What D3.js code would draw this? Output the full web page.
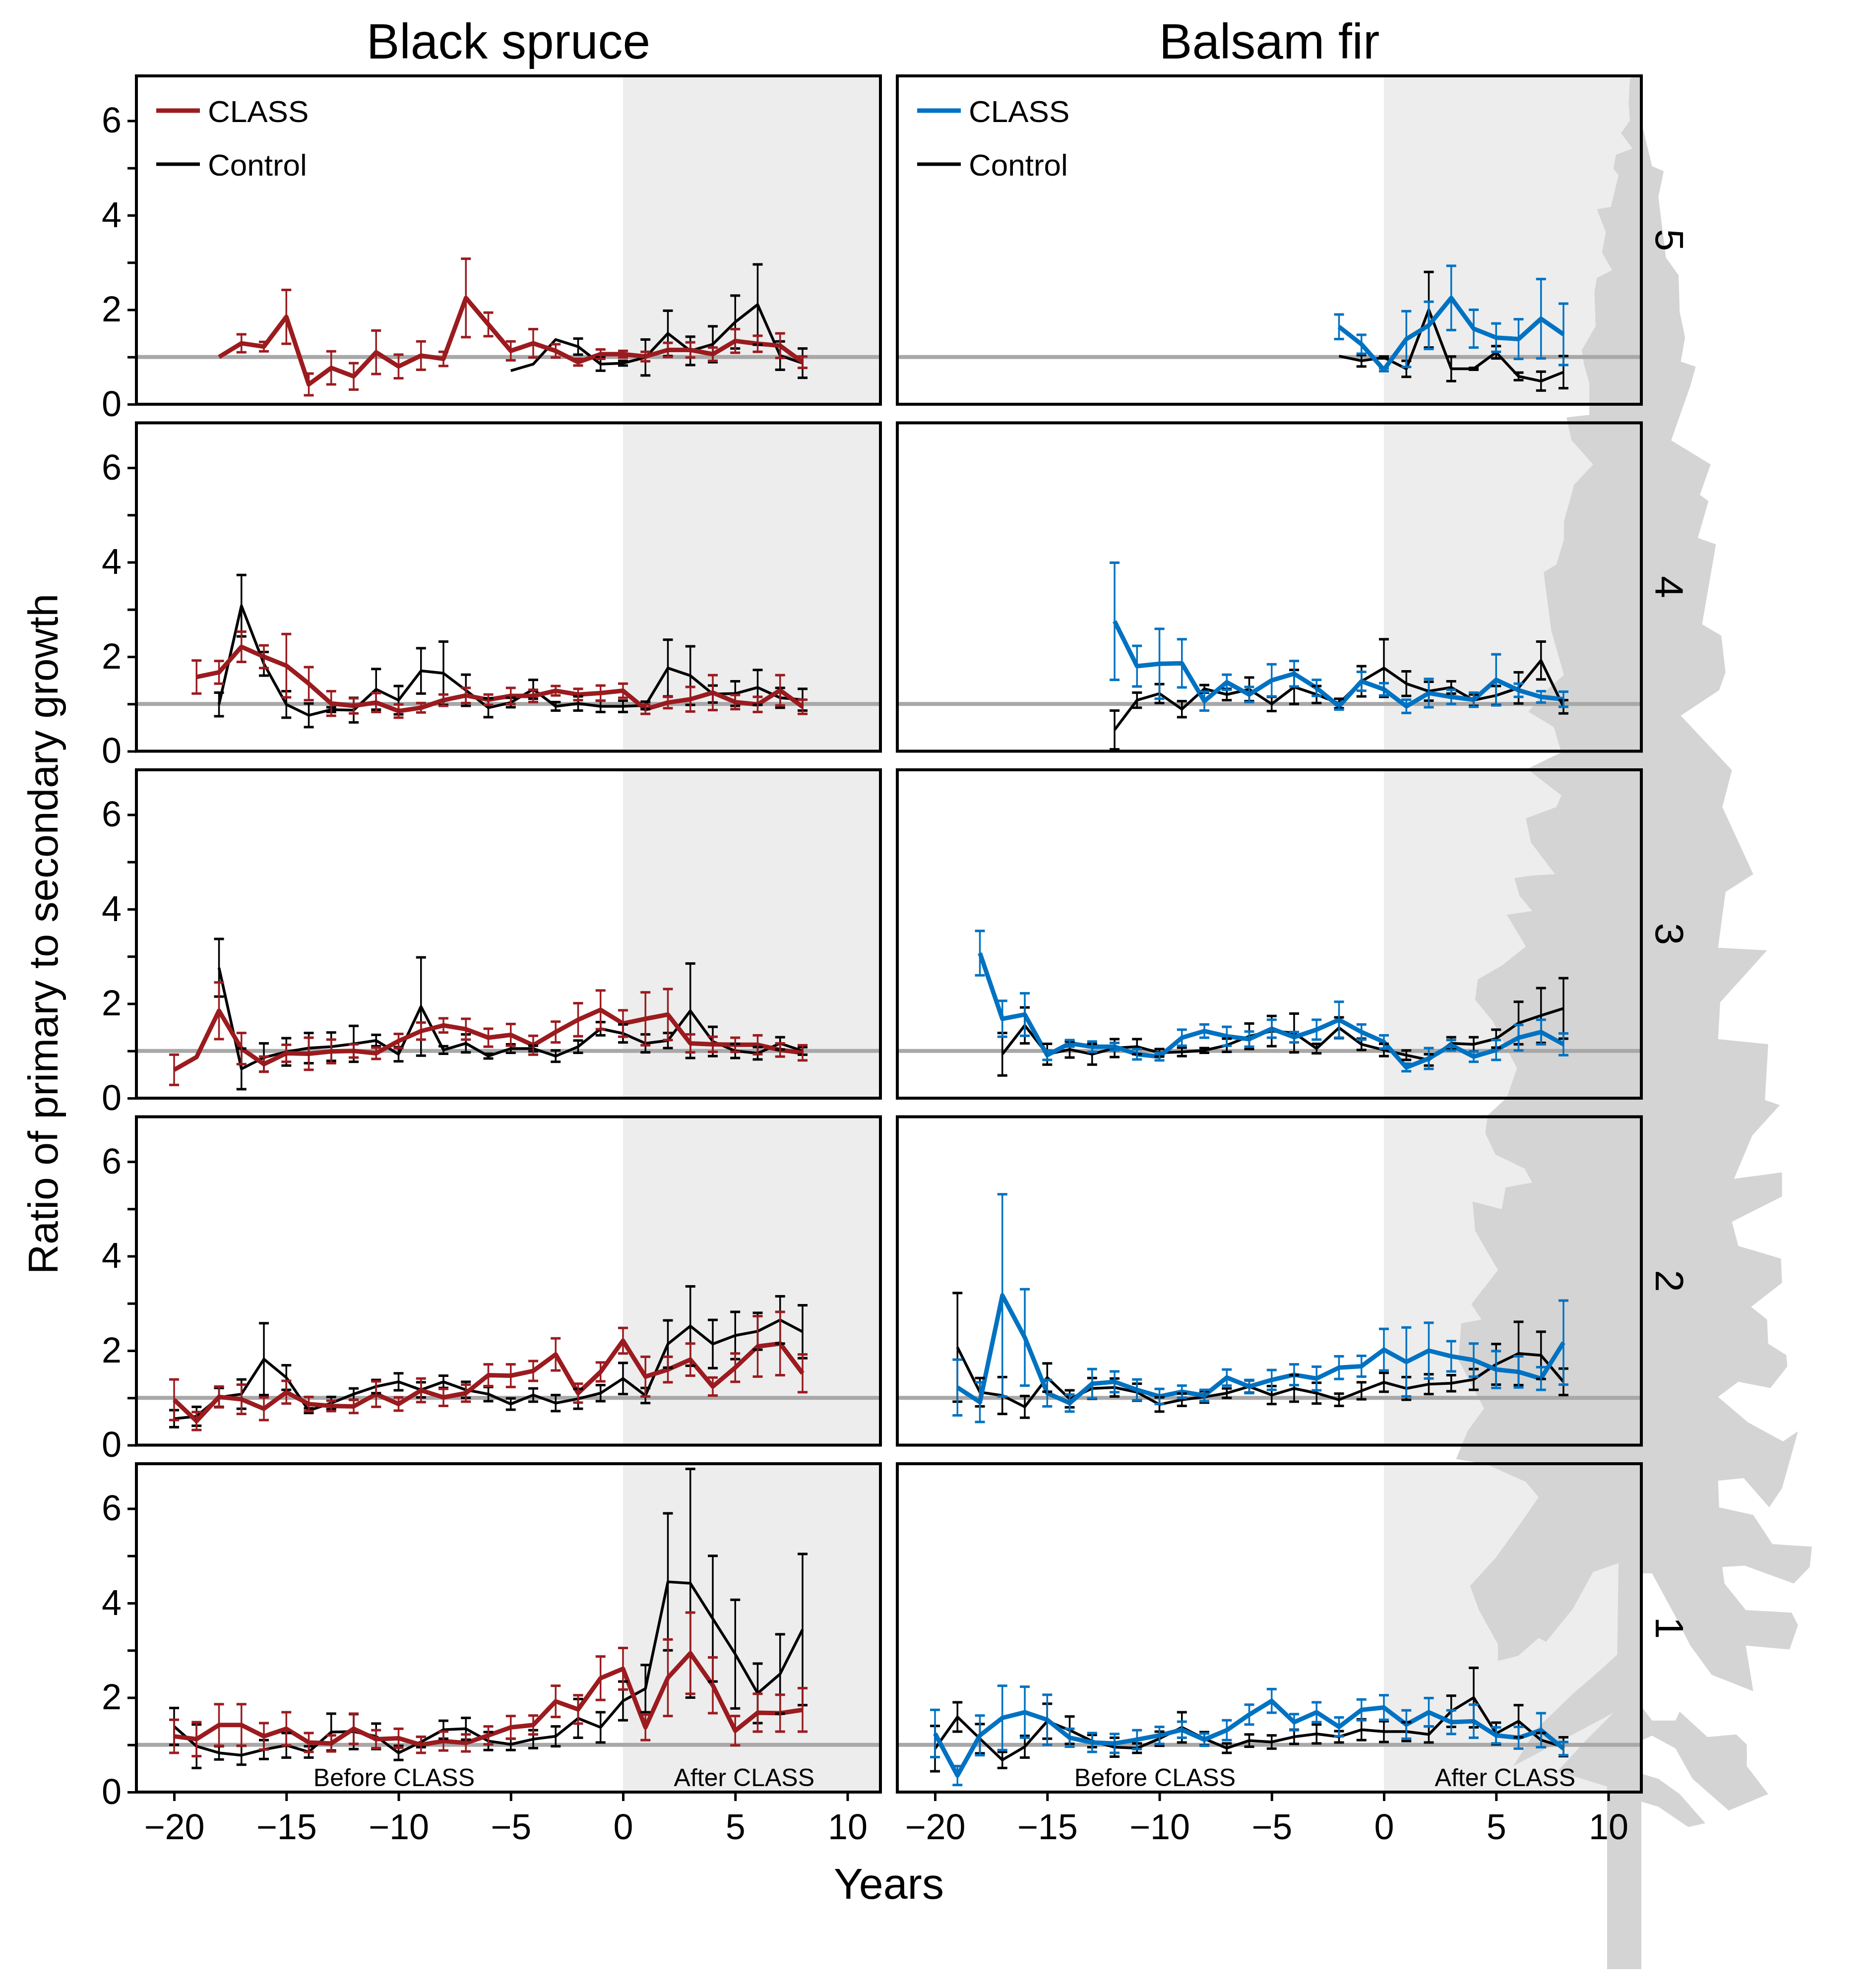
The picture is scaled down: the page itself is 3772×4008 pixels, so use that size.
<!DOCTYPE html>
<html>
<head>
<meta charset="utf-8">
<script src="https://cdn.jsdelivr.net/npm/d3@7"></script>
<style>
  body { margin: 0; background: #fff; }
  svg { display: block; }
</style>
</head>
<body>
<div id="container"><svg></svg></div>
<script>
// years relative to the CLASS treatment
let years = [-20, -19, -18, -17, -16, -15, -14, -13, -12, -11, -10, -9, -8, -7, -6, -5, -4, -3, -2, -1, 0, 1, 2, 3, 4, 5, 6, 7, 8];

// height class 5 (top row)
let spruce5_class    = [null, null, 1.00, 1.29, 1.22, 1.85, 0.42, 0.77, 0.59, 1.10, 0.80, 1.03, 0.96, 2.25, 1.69, 1.13, 1.29, 1.13, 0.89, 1.06, 1.06, 1.01, 1.15, 1.15, 1.06, 1.34, 1.28, 1.24, 0.89];
let spruce5_class_se = [null, null, 0, 0.19, 0.10, 0.57, 0.23, 0.35, 0.28, 0.46, 0.25, 0.30, 0.15, 0.83, 0.25, 0.20, 0.30, 0.14, 0.07, 0.10, 0.07, 0.10, 0.15, 0.16, 0.14, 0.25, 0.17, 0.26, 0.12];
let spruce5_ctrl     = [null, null, null, null, null, null, null, null, null, null, null, null, null, null, null, 0.71, 0.85, 1.37, 1.22, 0.85, 0.87, 0.99, 1.50, 1.13, 1.27, 1.74, 2.11, 1.03, 0.87];
let spruce5_ctrl_se  = [null, null, null, null, null, null, null, null, null, null, null, null, null, null, null, 0, 0, 0, 0.17, 0.14, 0.05, 0.38, 0.48, 0.30, 0.38, 0.56, 0.85, 0.30, 0.31];
let fir5_class       = [null, null, null, null, null, null, null, null, null, null, null, null, null, null, null, null, null, null, 1.64, 1.27, 0.73, 1.38, 1.67, 2.25, 1.60, 1.41, 1.38, 1.81, 1.48];
let fir5_class_se    = [null, null, null, null, null, null, null, null, null, null, null, null, null, null, null, null, null, null, 0.26, 0.20, 0.03, 0.59, 0.50, 0.68, 0.40, 0.30, 0.42, 0.84, 0.65];
let fir5_ctrl        = [null, null, null, null, null, null, null, null, null, null, null, null, null, null, null, null, null, null, 1.02, 0.92, 0.99, 0.75, 2.00, 0.75, 0.75, 1.10, 0.59, 0.49, 0.68];
let fir5_ctrl_se     = [null, null, null, null, null, null, null, null, null, null, null, null, null, null, null, null, null, null, 0, 0.12, 0.02, 0.17, 0.80, 0.26, 0.02, 0.13, 0.08, 0.20, 0.34];

// height class 4
let spruce4_class    = [null, 1.57, 1.67, 2.21, 2.00, 1.81, 1.43, 1.01, 0.96, 1.03, 0.85, 0.92, 1.08, 1.18, 1.09, 1.17, 1.17, 1.28, 1.20, 1.23, 1.28, 0.89, 1.03, 1.10, 1.24, 1.04, 0.99, 1.29, 0.94];
let spruce4_class_se = [null, 0.35, 0.24, 0.32, 0.24, 0.67, 0.35, 0.26, 0.16, 0.20, 0.14, 0.10, 0.12, 0.16, 0.11, 0.17, 0.13, 0.10, 0.12, 0.16, 0.15, 0.10, 0.12, 0.26, 0.37, 0.15, 0.16, 0.32, 0.15];
let spruce4_ctrl     = [null, null, 0.99, 3.08, 1.85, 0.99, 0.76, 0.88, 0.87, 1.31, 1.08, 1.70, 1.65, 1.29, 0.92, 1.03, 1.31, 0.95, 1.01, 0.95, 0.95, 0.97, 1.76, 1.60, 1.21, 1.22, 1.35, 1.13, 1.09];
let spruce4_ctrl_se  = [null, null, 0.25, 0.65, 0.25, 0.28, 0.25, 0.05, 0.26, 0.43, 0.30, 0.48, 0.67, 0.33, 0.20, 0.10, 0.20, 0.09, 0.15, 0.12, 0.12, 0.08, 0.60, 0.62, 0.18, 0.26, 0.37, 0.21, 0.23];
let fir4_class       = [null, null, null, null, null, null, null, null, 2.75, 1.80, 1.85, 1.86, 1.06, 1.46, 1.20, 1.50, 1.64, 1.34, 0.95, 1.48, 1.31, 0.95, 1.23, 1.15, 1.09, 1.51, 1.29, 1.15, 1.10];
let fir4_class_se    = [null, null, null, null, null, null, null, null, 1.24, 0.43, 0.74, 0.51, 0.20, 0.16, 0.16, 0.34, 0.27, 0.17, 0.07, 0.20, 0.13, 0.14, 0.30, 0.15, 0.15, 0.54, 0.14, 0.12, 0.16];
let fir4_ctrl        = [null, null, null, null, null, null, null, null, 0.45, 1.08, 1.22, 0.89, 1.32, 1.20, 1.31, 1.00, 1.36, 1.20, 1.01, 1.48, 1.76, 1.43, 1.27, 1.35, 1.08, 1.18, 1.34, 1.92, 0.94];
let fir4_ctrl_se     = [null, null, null, null, null, null, null, null, 0.41, 0.16, 0.20, 0.17, 0.08, 0.12, 0.25, 0.15, 0.36, 0.18, 0.10, 0.32, 0.61, 0.26, 0.20, 0.13, 0.12, 0.20, 0.33, 0.40, 0.14];

// height class 3
let spruce3_class    = [0.60, 0.87, 1.85, 1.05, 0.72, 0.95, 0.94, 0.99, 1.00, 0.95, 1.21, 1.42, 1.54, 1.46, 1.28, 1.34, 1.12, 1.40, 1.66, 1.87, 1.58, 1.68, 1.77, 1.16, 1.14, 1.13, 1.13, 1.02, 0.96];
let spruce3_class_se = [0.32, 0, 0.60, 0.33, 0.16, 0.18, 0.34, 0.25, 0.14, 0.12, 0.15, 0.18, 0.15, 0.22, 0.19, 0.23, 0.20, 0.22, 0.35, 0.41, 0.28, 0.56, 0.54, 0.19, 0.16, 0.15, 0.20, 0.14, 0.16];
let spruce3_ctrl     = [null, null, 2.76, 0.62, 0.86, 0.98, 1.06, 1.09, 1.15, 1.22, 0.93, 1.94, 1.02, 1.16, 0.89, 1.05, 1.05, 0.89, 1.09, 1.47, 1.37, 1.16, 1.22, 1.85, 1.20, 1.00, 0.95, 1.16, 1.00];
let spruce3_ctrl_se  = [null, null, 0.61, 0.43, 0.30, 0.29, 0.32, 0.30, 0.38, 0.12, 0.15, 1.04, 0.08, 0.19, 0.05, 0.09, 0.06, 0.12, 0.13, 0.14, 0.19, 0.19, 0.16, 1.00, 0.31, 0.15, 0.13, 0.13, 0.08];
let fir3_class       = [null, null, 3.07, 1.68, 1.77, 0.91, 1.16, 1.09, 1.09, 0.93, 0.88, 1.28, 1.42, 1.31, 1.25, 1.47, 1.29, 1.45, 1.66, 1.40, 1.19, 0.65, 0.84, 1.12, 0.88, 1.02, 1.28, 1.40, 1.14];
let fir3_class_se    = [null, null, 0.47, 0.38, 0.45, 0.10, 0.07, 0.11, 0.08, 0.11, 0.08, 0.17, 0.14, 0.20, 0.16, 0.19, 0.11, 0.21, 0.38, 0.16, 0.14, 0.08, 0.22, 0.11, 0.11, 0.21, 0.27, 0.26, 0.23];
let fir3_ctrl        = [null, null, null, 0.93, 1.54, 0.93, 1.03, 0.93, 1.06, 1.09, 0.96, 0.98, 1.01, 1.12, 1.31, 1.42, 1.38, 1.05, 1.49, 1.14, 1.02, 0.91, 0.81, 1.16, 1.14, 1.26, 1.59, 1.75, 1.90];
let fir3_ctrl_se     = [null, null, null, 0.45, 0.38, 0.22, 0.17, 0.22, 0.19, 0.16, 0.08, 0.09, 0.05, 0.14, 0.27, 0.32, 0.41, 0.10, 0.22, 0.12, 0.13, 0.10, 0.12, 0.13, 0.15, 0.19, 0.45, 0.58, 0.64];

// height class 2
let spruce2_class    = [0.96, 0.51, 1.02, 0.97, 0.77, 1.12, 0.87, 0.83, 0.82, 1.08, 0.87, 1.16, 1.01, 1.10, 1.48, 1.47, 1.57, 1.92, 1.10, 1.55, 2.21, 1.45, 1.60, 1.81, 1.24, 1.64, 2.09, 2.15, 1.52];
let spruce2_class_se = [0.43, 0.19, 0.22, 0.31, 0.24, 0.24, 0.15, 0.11, 0.14, 0.27, 0.14, 0.25, 0.18, 0.18, 0.23, 0.24, 0.21, 0.34, 0.20, 0.20, 0.27, 0.42, 0.27, 0.34, 0.19, 0.30, 0.64, 0.67, 0.40];
let spruce2_ctrl     = [0.56, 0.61, 1.01, 1.08, 1.82, 1.43, 0.73, 0.89, 1.08, 1.24, 1.34, 1.17, 1.34, 1.17, 1.08, 0.87, 1.06, 0.89, 0.98, 1.10, 1.41, 1.05, 2.14, 2.52, 2.14, 2.32, 2.41, 2.65, 2.40];
let spruce2_ctrl_se  = [0.18, 0.20, 0.20, 0.31, 0.76, 0.26, 0.05, 0.13, 0.12, 0.14, 0.18, 0.16, 0.13, 0.17, 0.15, 0.12, 0.14, 0.17, 0.21, 0.17, 0.33, 0.16, 0.50, 0.84, 0.51, 0.50, 0.39, 0.50, 0.56];
let fir2_class       = [null, 1.22, 0.91, 3.17, 2.28, 1.10, 0.89, 1.30, 1.34, 1.17, 1.03, 1.13, 1.05, 1.43, 1.24, 1.38, 1.49, 1.41, 1.64, 1.67, 2.02, 1.76, 2.00, 1.88, 1.80, 1.60, 1.55, 1.41, 2.17];
let fir2_class_se    = [null, 0.59, 0.42, 2.14, 1.02, 0.28, 0.18, 0.31, 0.22, 0.22, 0.16, 0.13, 0.12, 0.17, 0.14, 0.21, 0.22, 0.25, 0.24, 0.22, 0.44, 0.73, 0.59, 0.32, 0.35, 0.39, 0.33, 0.24, 0.89];
let fir2_ctrl        = [null, 2.07, 1.12, 1.05, 0.81, 1.43, 0.98, 1.20, 1.22, 1.12, 0.86, 0.96, 1.02, 1.10, 1.24, 1.06, 1.20, 1.10, 0.96, 1.15, 1.33, 1.20, 1.29, 1.31, 1.39, 1.71, 1.94, 1.90, 1.34];
let fir2_ctrl_se     = [null, 1.15, 0.30, 0.39, 0.23, 0.30, 0.18, 0.22, 0.19, 0.18, 0.15, 0.13, 0.12, 0.10, 0.13, 0.19, 0.28, 0.22, 0.13, 0.18, 0.20, 0.24, 0.21, 0.17, 0.22, 0.43, 0.67, 0.50, 0.28];

// height class 1 (bottom row)
let spruce1_class    = [1.18, 1.12, 1.42, 1.42, 1.18, 1.34, 1.05, 1.03, 1.34, 1.12, 1.14, 1.00, 1.08, 1.04, 1.20, 1.37, 1.42, 1.92, 1.75, 2.41, 2.61, 1.37, 2.42, 2.94, 2.26, 1.30, 1.68, 1.67, 1.74];
let spruce1_class_se = [0.35, 0.36, 0.44, 0.44, 0.28, 0.35, 0.20, 0.17, 0.32, 0.19, 0.20, 0.17, 0.20, 0.18, 0.19, 0.24, 0.20, 0.33, 0.30, 0.46, 0.44, 0.27, 0.81, 0.86, 0.59, 0.31, 0.40, 0.39, 0.46];
let spruce1_ctrl     = [1.39, 0.97, 0.83, 0.78, 0.90, 0.99, 0.85, 1.27, 1.28, 1.18, 0.83, 1.06, 1.32, 1.34, 1.08, 1.01, 1.12, 1.18, 1.56, 1.37, 1.93, 2.19, 4.45, 4.42, 3.67, 2.92, 2.09, 2.50, 3.44];
let spruce1_ctrl_se  = [0.39, 0.46, 0.14, 0.20, 0.20, 0.26, 0.12, 0.39, 0.37, 0.27, 0.15, 0.11, 0.19, 0.23, 0.19, 0.12, 0.19, 0.21, 0.41, 0.32, 0.41, 0.50, 1.45, 2.42, 1.33, 1.15, 0.63, 0.84, 1.60];
let fir1_class       = [1.24, 0.35, 1.20, 1.57, 1.69, 1.53, 1.15, 1.05, 1.03, 1.11, 1.20, 1.32, 1.11, 1.31, 1.64, 1.93, 1.48, 1.69, 1.38, 1.74, 1.79, 1.43, 1.69, 1.48, 1.50, 1.20, 1.15, 1.31, 0.92];
let fir1_class_se    = [0.50, 0.20, 0.42, 0.68, 0.54, 0.53, 0.19, 0.20, 0.20, 0.20, 0.18, 0.17, 0.13, 0.21, 0.21, 0.25, 0.17, 0.21, 0.20, 0.22, 0.26, 0.30, 0.30, 0.25, 0.35, 0.17, 0.23, 0.36, 0.14];
let fir1_ctrl        = [0.92, 1.59, 1.13, 0.68, 0.96, 1.50, 1.31, 1.08, 0.95, 0.93, 1.13, 1.37, 1.13, 0.93, 1.09, 1.06, 1.17, 1.23, 1.17, 1.32, 1.28, 1.28, 1.22, 1.71, 2.00, 1.24, 1.50, 1.10, 0.96];
let fir1_ctrl_se     = [0.48, 0.31, 0.31, 0.17, 0.23, 0.37, 0.29, 0.13, 0.20, 0.10, 0.15, 0.32, 0.14, 0.10, 0.13, 0.14, 0.15, 0.20, 0.12, 0.22, 0.22, 0.20, 0.17, 0.33, 0.63, 0.23, 0.34, 0.15, 0.20];

let row_labels = ['5', '4', '3', '2', '1'];
let species_titles = ['Black spruce', 'Balsam fir'];
let x_ticks = [-20, -15, -10, -5, 0, 5, 10];
let y_ticks = [0, 1, 2, 3, 4, 5, 6];

// tree silhouette outline (preview units, scaled up when drawn)
let tree_outline = [
  [1294,58],[1294,96],[1304,131],[1315,135],[1310,155],[1317,203],[1329,217],[1330,246],[1335,266],[1331,285],
  [1345,289],[1340,304],[1322,347],[1359,366],[1349,390],[1357,395],[1347,424],[1364,429],[1351,492],[1369,501],
  [1373,530],[1367,544],[1331,564],[1379,607],[1370,636],[1399,689],[1373,703],[1366,747],[1412,749],[1368,790],
  [1366,819],[1413,823],[1410,867],[1424,871],[1398,895],[1381,929],[1426,924],[1426,943],[1379,963],[1385,982],
  [1425,992],[1426,1011],[1397,1030],[1412,1040],[1413,1059],[1430,1068],[1431,1077],[1415,1094],[1385,1089],
  [1366,1101],[1394,1121],[1427,1136],[1441,1128],[1426,1173],[1414,1188],[1390,1165],[1366,1167],[1367,1188],
  [1399,1194],[1417,1217],[1454,1219],[1452,1235],[1437,1248],[1391,1234],[1370,1235],[1372,1248],[1392,1269],
  [1435,1271],[1441,1281],[1433,1300],[1392,1297],[1399,1333],[1360,1320],[1340,1297],[1326,1274],[1304,1240],
  [1294,1240],[1294,1345],[1304,1356],[1326,1356],[1330,1349],[1356,1369],[1383,1367],[1393,1375],[1393,1392],
  [1413,1414],[1376,1427],[1342,1402],[1326,1378],[1304,1368],[1294,1372],[1294,1398],[1310,1402],[1330,1414],
  [1354,1437],[1338,1440],[1310,1424],[1294,1420],[1294,1552],[1267,1552],[1267,1408],[1228,1396],[1250,1372],
  [1272,1350],[1193,1392],[1212,1362],[1240,1335],[1262,1316],[1275,1304],[1276,1232],[1256,1239],[1240,1268],
  [1219,1294],[1213,1291],[1197,1305],[1181,1309],[1181,1296],[1166,1269],[1159,1250],[1179,1228],[1200,1199],
  [1213,1180],[1203,1168],[1172,1154],[1148,1150],[1157,1128],[1170,1110],[1150,1072],[1152,1043],[1168,1040],
  [1160,1028],[1181,1001],[1163,970],[1161,947],[1184,953],[1187,936],[1208,932],[1202,921],[1179,910],
  [1171,893],[1173,879],[1188,865],[1196,842],[1177,805],[1163,788],[1165,772],[1184,761],[1203,746],[1188,721],
  [1208,718],[1198,706],[1194,692],[1208,690],[1226,689],[1207,664],[1203,645],[1227,636],[1231,627],[1204,606],
  [1231,593],[1225,573],[1205,561],[1217,546],[1233,532],[1223,497],[1217,451],[1227,445],[1233,425],[1233,411],
  [1241,382],[1256,366],[1239,347],[1235,329],[1253,327],[1253,302],[1249,288],[1247,276],[1258,257],[1257,230],
  [1259,219],[1271,213],[1263,199],[1266,183],[1259,165],[1270,163],[1276,138],[1272,133],[1274,122],[1287,117],
  [1278,105],[1285,95],[1284,81],[1285,62]
];

let width = 3772;
let height = 4008;
let fontFamily = "'Liberation Sans', Arial, Helvetica, sans-serif";
let col_red = '#9b1b1f';
let col_blue = '#0072c2';

let panel_w = 1500;
let panel_h = 662;
let panel_left = [275, 1809];
let row_top0 = 153;
let row_step = 699.5;

function row_top(r) {
    return row_top0 + r * row_step;
}

function to_points(vals, se) {
    return years.map((yr, i) => ({yr: yr, v: vals[i], se: se[i]}))
        .filter(d => d.v != null);
}

let rows = [
    [[spruce5_class, spruce5_class_se, spruce5_ctrl, spruce5_ctrl_se], [fir5_class, fir5_class_se, fir5_ctrl, fir5_ctrl_se]],
    [[spruce4_class, spruce4_class_se, spruce4_ctrl, spruce4_ctrl_se], [fir4_class, fir4_class_se, fir4_ctrl, fir4_ctrl_se]],
    [[spruce3_class, spruce3_class_se, spruce3_ctrl, spruce3_ctrl_se], [fir3_class, fir3_class_se, fir3_ctrl, fir3_ctrl_se]],
    [[spruce2_class, spruce2_class_se, spruce2_ctrl, spruce2_ctrl_se], [fir2_class, fir2_class_se, fir2_ctrl, fir2_ctrl_se]],
    [[spruce1_class, spruce1_class_se, spruce1_ctrl, spruce1_ctrl_se], [fir1_class, fir1_class_se, fir1_ctrl, fir1_ctrl_se]]
];

function make_x(c) {
    return d3.scaleLinear()
        .domain([-21.68, 11.47])
        .range([panel_left[c], panel_left[c] + panel_w]);
}

function make_y(r) {
    return d3.scaleLinear()
        .domain([0, 6.95])
        .range([row_top(r) + panel_h, row_top(r)]);
}

function draw_series(g, x, y, pts, color, lw) {
    let line = d3.line()
        .x(d => x(d.yr))
        .y(d => y(d.v));
    g.append('path')
        .datum(pts)
        .attr('d', line)
        .attr('fill', 'none')
        .attr('stroke', color)
        .attr('stroke-width', lw)
        .attr('stroke-linejoin', 'round');
}

function draw_errorbars(g, x, y, pts, color) {
    let bars = g.append('g')
        .selectAll('g')
        .data(pts.filter(d => d.se > 0))
        .enter().append('g')
        .attr('stroke', color)
        .attr('stroke-width', 3.5);
    bars.append('line')
        .attr('x1', d => x(d.yr)).attr('x2', d => x(d.yr))
        .attr('y1', d => y(d.v - d.se)).attr('y2', d => y(d.v + d.se));
    bars.append('line')
        .attr('x1', d => x(d.yr) - 10).attr('x2', d => x(d.yr) + 10)
        .attr('y1', d => y(d.v + d.se)).attr('y2', d => y(d.v + d.se))
        .attr('stroke-width', 5);
    bars.append('line')
        .attr('x1', d => x(d.yr) - 10).attr('x2', d => x(d.yr) + 10)
        .attr('y1', d => y(d.v - d.se)).attr('y2', d => y(d.v - d.se))
        .attr('stroke-width', 5);
}

function draw_main() {
    let svg = d3.select('#container')
        .select('svg')
        .attr('width', width)
        .attr('height', height)
        .style('font-family', fontFamily);

    svg.append('rect')
        .attr('width', width).attr('height', height)
        .attr('fill', '#ffffff');

    // panel backgrounds + after-CLASS shading
    let bg = svg.append('g');
    for (let r = 0; r < 5; r++) {
        for (let c = 0; c < 2; c++) {
            let x = make_x(c);
            bg.append('rect')
                .attr('x', panel_left[c]).attr('y', row_top(r))
                .attr('width', panel_w).attr('height', panel_h)
                .attr('fill', '#ffffff');
            bg.append('rect')
                .attr('x', x(0)).attr('y', row_top(r))
                .attr('width', panel_left[c] + panel_w - x(0)).attr('height', panel_h)
                .attr('fill', '#ededed');
        }
    }

    // tree silhouette; parts outside the panels squeezed a little toward the frame
    let k = 2.558;
    let edge = (panel_left[1] + panel_w) / k;
    svg.append('path')
        .attr('d', d3.line()
            .x(d => (d[0] > 1294 ? edge + (d[0] - 1294) * 0.84 : d[0] - 1294 + edge) * k)
            .y(d => d[1] * k)(tree_outline) + 'Z')
        .attr('fill', '#d4d4d4');

    for (let r = 0; r < 5; r++) {
        let y = make_y(r);
        for (let c = 0; c < 2; c++) {
            let x = make_x(c);
            let set = rows[r][c];
            let color = c == 0 ? col_red : col_blue;
            let g = svg.append('g');

            // reference line at ratio 1
            g.append('line')
                .attr('x1', panel_left[c]).attr('x2', panel_left[c] + panel_w)
                .attr('y1', y(1)).attr('y2', y(1))
                .attr('stroke', '#a8a8a8')
                .attr('stroke-width', 8);

            let cls = to_points(set[0], set[1]);
            let ctl = to_points(set[2], set[3]);
            draw_series(g, x, y, ctl, '#000000', 5.5);
            draw_series(g, x, y, cls, color, 9);
            draw_errorbars(g, x, y, ctl, '#000000');
            draw_errorbars(g, x, y, cls, color);

            // border
            g.append('rect')
                .attr('x', panel_left[c]).attr('y', row_top(r))
                .attr('width', panel_w).attr('height', panel_h)
                .attr('fill', 'none')
                .attr('stroke', '#000000')
                .attr('stroke-width', 6);

            // y axis on the left column
            if (c == 0) {
                let axis_y = d3.axisLeft(y)
                    .tickValues(y_ticks)
                    .tickSize(18)
                    .tickPadding(12)
                    .tickFormat(d => d % 2 == 0 ? d : '');
                let ga = svg.append('g')
                    .attr('transform', `translate(${panel_left[c]}, 0)`)
                    .call(axis_y);
                ga.select('.domain').remove();
                ga.selectAll('line').attr('stroke-width', 5);
                ga.selectAll('text')
                    .attr('font-size', 72)
                    .attr('font-family', fontFamily)
                    .attr('fill', '#000');
            }

            // x axis on the bottom row
            if (r == 4) {
                let axis_x = d3.axisBottom(x)
                    .tickValues(x_ticks)
                    .tickSize(18)
                    .tickPadding(26);
                let gx = svg.append('g')
                    .attr('transform', `translate(0, ${row_top(r) + panel_h})`)
                    .call(axis_x);
                gx.select('.domain').remove();
                gx.selectAll('line').attr('stroke-width', 5);
                gx.selectAll('text')
                    .attr('font-size', 72)
                    .attr('font-family', fontFamily)
                    .attr('fill', '#000');

                g.append('text')
                    .attr('x', x(-10.2)).attr('y', row_top(r) + panel_h - 12)
                    .attr('text-anchor', 'middle')
                    .attr('font-size', 50)
                    .text('Before CLASS');
                g.append('text')
                    .attr('x', x(5.4)).attr('y', row_top(r) + panel_h - 12)
                    .attr('text-anchor', 'middle')
                    .attr('font-size', 50)
                    .text('After CLASS');
            }

            // legend in the top row
            if (r == 0) {
                let lx = panel_left[c] + 40;
                let items = [['CLASS', color, 9, 70], ['Control', '#000000', 7, 178]];
                items.forEach(it => {
                    g.append('line')
                        .attr('x1', lx).attr('x2', lx + 88)
                        .attr('y1', row_top(r) + it[3]).attr('y2', row_top(r) + it[3])
                        .attr('stroke', it[1])
                        .attr('stroke-width', it[2]);
                    g.append('text')
                        .attr('x', lx + 104)
                        .attr('y', row_top(r) + it[3] + 23)
                        .attr('font-size', 62)
                        .text(it[0]);
                });
            }
        }

        // height-class strip label on the right
        svg.append('text')
            .attr('transform', `translate(${3338}, ${row_top(r) + panel_h / 2}) rotate(90)`)
            .attr('text-anchor', 'middle')
            .attr('font-size', 80)
            .text(row_labels[r]);
    }

    // column titles
    for (let c = 0; c < 2; c++) {
        svg.append('text')
            .attr('x', panel_left[c] + panel_w / 2)
            .attr('y', 118)
            .attr('text-anchor', 'middle')
            .attr('font-size', 100)
            .text(species_titles[c]);
    }

    // axis titles
    svg.append('text')
        .attr('x', (panel_left[0] + panel_left[1] + panel_w) / 2)
        .attr('y', 3828)
        .attr('text-anchor', 'middle')
        .attr('font-size', 88)
        .text('Years');

    svg.append('text')
        .attr('transform', `translate(116, ${(row_top(0) + row_top(4) + panel_h) / 2}) rotate(-90)`)
        .attr('text-anchor', 'middle')
        .attr('font-size', 84)
        .text('Ratio of primary to secondary growth');
}

draw_main();
</script>
</body>
</html>
